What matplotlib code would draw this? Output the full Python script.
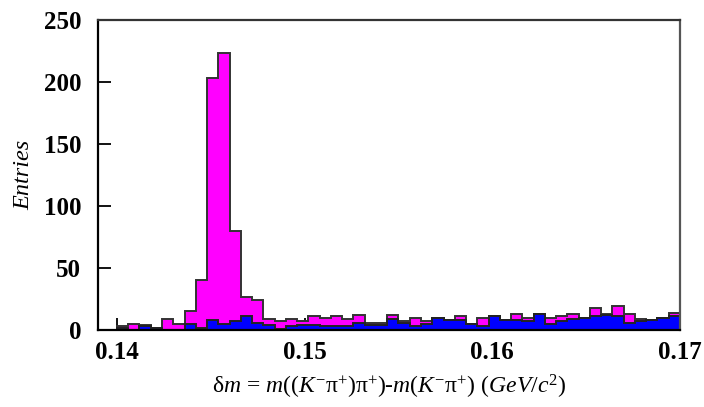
import numpy as np
import matplotlib.pyplot as plt

plt.rcParams['font.family'] = 'Liberation Serif'
plt.rcParams['mathtext.fontset'] = 'custom'
plt.rcParams['mathtext.it'] = 'Liberation Serif:italic'
plt.rcParams['mathtext.rm'] = 'Liberation Serif'

# histogram: 50 bins from 0.14 to 0.17 GeV/c^2
x_lo, x_hi, n_bins = 0.14, 0.17, 50
total = [3, 5, 4, 2, 9, 5, 15, 40, 203, 223,
         80, 27, 24, 9, 7, 9, 7, 11, 10, 11,
         9, 12, 6, 6, 12, 7, 10, 7, 10, 8,
         11, 5, 10, 11, 8, 13, 10, 13, 10, 11,
         13, 10, 18, 13, 19, 13, 9, 8, 10, 14]
background = [2, 0, 3, 2, 0, 0, 5, 2, 8, 5,
              7, 11, 6, 4, 1, 3, 4, 4, 3, 3,
              3, 6, 4, 4, 9, 6, 3, 5, 10, 8,
              8, 5, 3, 11, 8, 8, 7, 13, 5, 7,
              9, 10, 11, 12, 11, 6, 7, 8, 10, 11]
xticks = [0.14, 0.15, 0.16, 0.17]
xtick_labels = ['0.14', '0.15', '0.16', '0.17']
yticks = [0, 50, 100, 150, 200, 250]

edges = np.linspace(x_lo, x_hi, n_bins + 1)

fig = plt.figure(figsize=(7.04, 4.07), dpi=100)
ax = fig.add_axes([0.1392, 0.1892, 0.8267, 0.7617])

ax.stairs(total, edges, fill=True, color='#ff00ff', zorder=2)
ax.stairs(total, edges, fill=False, color='#333333', linewidth=1.4, zorder=3)
ax.stairs(background, edges, fill=True, color='#0000ff', zorder=4)
ax.stairs(background, edges, fill=False, color='#222222', linewidth=1.4, zorder=5)

ax.set_xlim(0.13899, 0.17)
ax.set_ylim(0, 250)
ax.set_xticks(xticks)
ax.set_xticklabels(xtick_labels)
ax.set_yticks(yticks)
ax.tick_params(direction='in', length=9, width=1.3, labelsize=18, color='black')
ax.tick_params(axis='x', pad=8)
ax.tick_params(axis='y', pad=12)
for lab in ax.get_xticklabels() + ax.get_yticklabels():
    lab.set_fontweight('bold')
for s in ax.spines.values():
    s.set_linewidth(1.6)
    s.set_zorder(6)
ax.spines['top'].set_color('#333333')
ax.spines['right'].set_color('#555555')

ax.set_ylabel('Entries', fontsize=17.5, style='italic', labelpad=7)
ax.set_xlabel(r'$\mathrm{\delta}m$ = $m((K^{-}\mathrm{\pi}^{+})\mathrm{\pi}^{+})$-$m(K^{-}\mathrm{\pi}^{+})$ $(GeV/c^{2})$',
              fontsize=17, labelpad=6)

fig.savefig('out.png', dpi=100)
